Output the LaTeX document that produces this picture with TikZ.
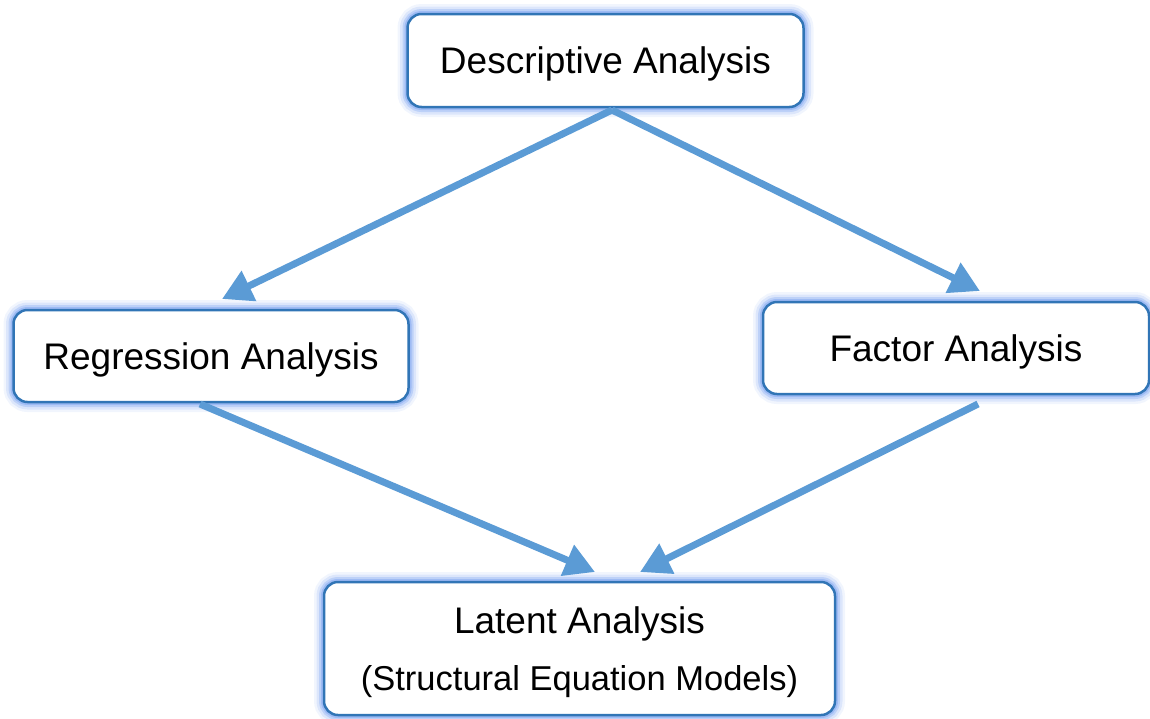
\documentclass[tikz,border=0pt]{standalone}
\usepackage{fontspec}
\setmainfont{Liberation Sans}
\usetikzlibrary{arrows.meta}
\definecolor{boxline}{RGB}{49,117,182}
\definecolor{glow}{RGB}{120,160,240}
\definecolor{flow}{RGB}{91,155,213}
\tikzset{
  glowbox/.style={
    rounded corners=14pt, draw=boxline, line width=2.5pt, fill=white,
    inner sep=0pt, align=center, text depth=0pt,
    font=\fontsize{37}{57}\selectfont,
    preaction={draw=glow, line width=20pt, draw opacity=0.1},
    preaction={draw=glow, line width=15pt, draw opacity=0.18},
    preaction={draw=glow, line width=10pt, draw opacity=0.3},
    preaction={draw=glow, line width=6pt, draw opacity=0.45}},
  flowarrow/.style={draw=flow, line width=7pt,
    -{Triangle[length=30pt,width=32pt]}}
}
\begin{document}
\begin{tikzpicture}[x=1pt,y=-1pt]
\useasboundingbox (0,0) rectangle (1150,718);

\node[glowbox, minimum width=396pt, minimum height=93pt] (desc) at (605.5,60.5)
  {Descriptive Analysis};
\node[glowbox, minimum width=395pt, minimum height=92pt] (regr) at (211,356)
  {Regression Analysis};
\node[glowbox, minimum width=386pt, minimum height=92pt] (fact) at (956,348)
  {Factor Analysis};
\node[glowbox, minimum width=511pt, minimum height=133pt] (late) at (579.5,648.5)
  {Latent Analysis\\{\fontsize{34.5}{57}\selectfont (Structural Equation Models)}};

% connector end points on the box edges
\coordinate (dtop) at (612,110);
\coordinate (rin) at (222,299);
\coordinate (fin) at (980,291);
\coordinate (rout) at (200,404);
\coordinate (fout) at (978,404);
\coordinate (lin1) at (595,572);
\coordinate (lin2) at (640,572);

\draw[flowarrow] (dtop) -- (rin);
\draw[flowarrow] (dtop) -- (fin);
\draw[flowarrow] (rout) -- (lin1);
\draw[flowarrow] (fout) -- (lin2);
\end{tikzpicture}
\end{document}
